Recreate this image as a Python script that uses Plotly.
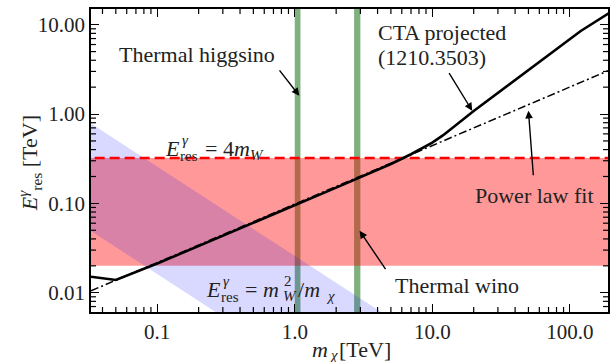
import numpy as np
import plotly.graph_objects as go

# ---- data (TeV) ----
m_W = 0.0804  # W mass

# CTA projected energy resolution (1210.3503)
cta_mass = [0.033, 0.05, 0.1, 0.2, 0.5, 1.0, 2.0, 5.0, 7.0, 10.0, 12.0, 20.0, 35.0, 70.0, 120.0, 200.0]
cta_eres = [0.0151, 0.0139, 0.0212, 0.0332, 0.0605, 0.096, 0.150, 0.276, 0.355, 0.48, 0.58, 1.08, 2.05, 4.5, 8.5, 14.0]

# power-law fit to the CTA curve
fit_mass = [0.033, 1.0, 10.0, 100.0, 200.0]
fit_eres = [0.0105, 0.098, 0.444, 2.0, 3.16]

# thermal relic mass windows
higgsino_range = [1.0, 1.1]
wino_range = [2.7, 3.0]

# shaded regions
band_low = 0.02            # lower edge of the 4 m_W band
band_high = 4 * m_W        # E_res = 4 m_W
blue_factor_hi = 4.0       # m_W^2/m_chi band spans [1/4, 4] x m_W^2/m_chi
blue_factor_lo = 0.25
mass_span = [0.01, 1000.0]

# ticks
x_ticks = [0.1, 1.0, 10.0, 100.0]
x_ticktext = ["0.1", "1.0", "10.0", "100.0"]
y_ticks = [0.01, 0.1, 1.0, 10.0]
y_ticktext = ["0.01", "0.10", "1.00", "10.00"]
x_minor = [k * 10.0 ** e for e in range(-2, 3) for k in range(2, 10)]
y_minor = [k * 10.0 ** e for e in range(-3, 2) for k in range(2, 10)]

# ---- geometry ----
W, H = 610, 362
L, T = 91, 9
PW, PH = W - L, 303
B = H - T - PH
px_per_dec_x = 138.07
px_per_dec_y = 89.33
x0 = np.log10(0.033)
xr = [x0, x0 + PW / px_per_dec_x]
y0 = -2.216
yr = [y0, y0 + PH / px_per_dec_y]
MINOR_LEN = 5  # px

FONT = "Liberation Serif, Times New Roman, serif"
TXT = "#222222"


def px_x(px):
    return (px - L) / PW


def px_y(py):
    return (T + PH - py) / PH


fig = go.Figure()

# green relic-mass bars (drawn first, so the bands tint them)
for lo, hi in (higgsino_range, wino_range):
    fig.add_trace(go.Scatter(
        x=[lo, hi, hi, lo, lo], y=[1e-4, 1e-4, 1e3, 1e3, 1e-4],
        mode="lines", line=dict(width=0), fill="toself",
        fillcolor="rgba(0,100,0,0.5)", hoverinfo="skip", showlegend=False))

# red band between 0.02 TeV and 4 m_W
fig.add_trace(go.Scatter(
    x=[mass_span[0], mass_span[1], mass_span[1], mass_span[0], mass_span[0]],
    y=[band_low, band_low, band_high, band_high, band_low],
    mode="lines", line=dict(width=0), fill="toself",
    fillcolor="rgba(255,0,0,0.4)", hoverinfo="skip", showlegend=False))

# blue band around m_W^2 / m_chi
m_lo, m_hi = mass_span
fig.add_trace(go.Scatter(
    x=[m_lo, m_hi, m_hi, m_lo, m_lo],
    y=[blue_factor_hi * m_W**2 / m_lo, blue_factor_hi * m_W**2 / m_hi,
       blue_factor_lo * m_W**2 / m_hi, blue_factor_lo * m_W**2 / m_lo,
       blue_factor_hi * m_W**2 / m_lo],
    mode="lines", line=dict(width=0), fill="toself",
    fillcolor="rgba(0,0,255,0.15)", hoverinfo="skip", showlegend=False))

# dashed 4 m_W line
fig.add_trace(go.Scatter(
    x=mass_span, y=[band_high, band_high], mode="lines",
    line=dict(color="red", width=2.6, dash="10px,5px"),
    hoverinfo="skip", showlegend=False))

# power-law fit
fig.add_trace(go.Scatter(
    x=fit_mass, y=fit_eres, mode="lines",
    line=dict(color="black", width=1.5, dash="8px,3px,2px,3px"),
    showlegend=False))

# CTA curve
fig.add_trace(go.Scatter(
    x=cta_mass, y=cta_eres, mode="lines",
    line=dict(color="black", width=2.6), showlegend=False))

# minor ticks on all four sides of the frame (paper coordinates from the log scale)
shapes = []
tick_line = dict(color="black", width=1.2)
for v in x_minor:
    f = (np.log10(v) - xr[0]) / (xr[1] - xr[0])
    if 0 < f < 1:
        shapes.append(dict(type="line", xref="paper", yref="paper", x0=f, x1=f,
                           y0=0, y1=MINOR_LEN / PH, line=tick_line, layer="above"))
        shapes.append(dict(type="line", xref="paper", yref="paper", x0=f, x1=f,
                           y0=1 - MINOR_LEN / PH, y1=1, line=tick_line, layer="above"))
for v in y_minor:
    f = (np.log10(v) - yr[0]) / (yr[1] - yr[0])
    if 0 < f < 1:
        shapes.append(dict(type="line", xref="paper", yref="paper", y0=f, y1=f,
                           x0=0, x1=MINOR_LEN / PW, line=tick_line, layer="above"))
        shapes.append(dict(type="line", xref="paper", yref="paper", y0=f, y1=f,
                           x0=1 - MINOR_LEN / PW, x1=1, line=tick_line, layer="above"))

ann = []


def text(px, py, s, size=22, xanchor="center", angle=0):
    ann.append(dict(xref="paper", yref="paper", x=px_x(px), y=px_y(py),
                    text=s, showarrow=False, xanchor=xanchor, yanchor="middle",
                    textangle=angle, borderpad=0,
                    font=dict(family=FONT, size=size, color=TXT)))


def arrow(hx, hy, ax, ay):
    ann.append(dict(x=np.log10(hx), y=np.log10(hy), xref="x", yref="y",
                    ax=ax, ay=ay, text="", showarrow=True, arrowhead=2,
                    arrowsize=1.1, arrowwidth=1.4, arrowcolor="black",
                    standoff=0, startstandoff=0))


def e_res(px_right, py):
    """Italic E with stacked gamma / res indices, E ending at px_right."""
    text(px_right + 1, py, "<i>E</i>", xanchor="right")
    text(px_right + 1, py - 8, "<i>γ</i>", size=15, xanchor="left")
    text(px_right - 1, py + 8, "res", size=15, xanchor="left")


text(197.5, 55, "Thermal higgsino")
arrow(1.08, 1.60, -21, -27)

text(378, 32, "CTA projected", xanchor="left")
text(378, 57, "(1210.3503)", xanchor="left")
arrow(19.5, 1.09, -24, -39)

text(536, 195, "Power law fit")
arrow(50.0, 1.09, 5, 66)

text(458.5, 285, "Thermal wino")
arrow(2.96, 0.0494, 27, 40)

# E_res = 4 m_W
e_res(180, 148)
text(204, 148, "= 4<i>m</i>", xanchor="left")
text(250, 155, "<i>W</i>", size=15, xanchor="left")

# E_res = m_W^2 / m_chi
e_res(222, 289)
text(245, 289, "= <i>m</i>", xanchor="left")
text(284, 281, "2", size=15, xanchor="left")
text(283, 296, "<i>W</i>", size=15, xanchor="left")
text(298, 289, "/<i>m</i>", xanchor="left")
text(326, 296, "<i>χ</i>", size=15, xanchor="left")

# axis titles
text(330, 349, "<i>m</i>", xanchor="right")
text(329, 355, "<i>χ</i>", size=15, xanchor="left")
text(339, 349, "[TeV]", xanchor="left")
text(30, 163, "<i>E</i><sup><i>γ</i></sup><sub>res</sub> [TeV]", angle=-90)

axis_common = dict(
    type="log", showgrid=False, zeroline=False, showline=True,
    linecolor="black", linewidth=1.6, mirror="allticks",
    ticks="inside", ticklen=8, tickwidth=1.3, tickcolor="black",
    tickmode="array", tickfont=dict(family=FONT, size=21, color=TXT),
)

fig.update_layout(
    width=W, height=H,
    margin=dict(l=L, r=0, t=T, b=B, pad=0),
    paper_bgcolor="white", plot_bgcolor="white",
    annotations=ann, shapes=shapes,
    xaxis=dict(range=xr, tickvals=x_ticks, ticktext=x_ticktext, **axis_common),
    yaxis=dict(range=yr, tickvals=y_ticks, ticktext=y_ticktext, **axis_common),
)

fig.write_html("out.html")
